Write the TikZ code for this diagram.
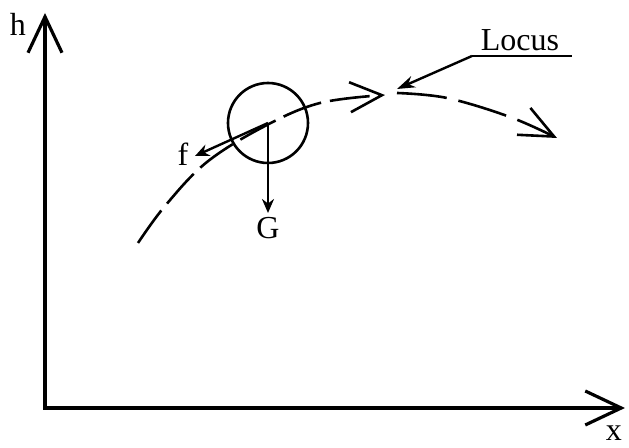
\documentclass[tikz,border=0pt]{standalone}
\usepackage{fontspec}
\setmainfont{Liberation Serif}
\usetikzlibrary{arrows.meta}
\begin{document}
\begin{tikzpicture}[x=0.5pt,y=-0.5pt,
    axis/.style={line width=1.6pt,{Straight Barb[length=18pt,width=17pt]}-{Straight Barb[length=18pt,width=17pt]}},
    path1/.style={line width=1.3pt,dash pattern=on 20pt off 4.5pt},
    force/.style={line width=1.2pt,-{Stealth[length=7pt,width=6pt]}},
    lbl/.style={font=\fontsize{16}{18}\selectfont,inner sep=0pt}]
  \useasboundingbox (0,0) rectangle (629,448);
  % axes
  \coordinate (o) at (45,408);
  \coordinate (htip) at (45,13);
  \coordinate (xtip) at (625,408);
  \draw[axis,line join=miter] (htip) -- (o) -- (xtip);
  \node[lbl] (h) at (18,24) {h};
  \node[lbl,anchor=south] (x) at (614,441) {x};
  % locus
  \draw[path1,-{Straight Barb[length=16pt,width=15pt]}] plot[smooth,tension=0.6]
    coordinates {(138,243) (165,206) (207,162) (265,126) (320,103) (385,95)};
  \draw[path1,dash pattern=on 25pt off 6pt,-{Straight Barb[length=17pt,width=15pt]}] plot[smooth,tension=0.6]
    coordinates {(397,93) (447,98) (510,117) (557,138)};
  % ball and forces
  \node[draw,circle,line width=1.3pt,minimum size=40pt,inner sep=0pt] (ball) at (268,123) {};
  \coordinate (fend) at (195,156);
  \coordinate (gend) at (268,213);
  \draw[force] (ball.center) -- (fend);
  \draw[force] (ball.center) -- (gend);
  \node[lbl] (f) at (183,154) {f};
  \node[lbl] (G) at (268,228) {G};
  % label
  \node[lbl] (loc) at (520,40) {Locus};
  \coordinate (ul) at (472,56);
  \coordinate (ur) at (572,56);
  \coordinate (ltip) at (397,89);
  \draw[line width=1.2pt] (ul) -- (ur);
  \draw[line width=1.2pt,-{Stealth[length=9pt,width=6pt]}] (ul) -- (ltip);
\end{tikzpicture}
\end{document}
